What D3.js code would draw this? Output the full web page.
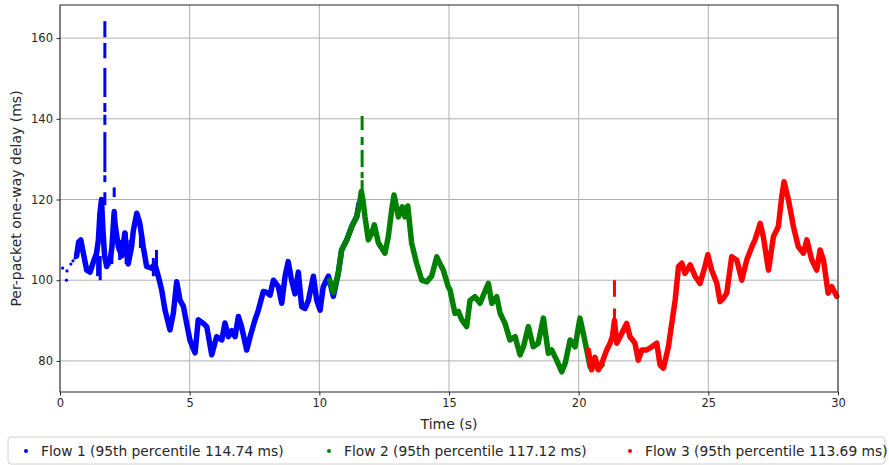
<!DOCTYPE html>
<html>
<head>
<meta charset="utf-8">
<script src="https://cdn.jsdelivr.net/npm/d3@7"></script>
<style>
  body { margin: 0; background: #fff; }
  text { font-family: "DejaVu Sans", sans-serif; fill: #262626; }
</style>
</head>
<body>
<div id="chart"></div>
<script>
// data: [time s, delay ms]
const flow1Sparse = [[0.1, 103], [0.25, 100], [0.27, 102.3], [0.42, 104], [0.5, 104.8], [0.58, 105.5]]
const flow1 = [[0.64,106],[0.72,109.5],[0.8,110],[0.9,106.7],[1.03,102.5],[1.16,102],[1.29,104.6],[1.41,106.7],[1.48,110],[1.54,116.6],[1.6,120],[1.66,112],[1.72,106],[1.8,103.4],[1.93,105],[2.0,108],[2.09,117],[2.12,114],[2.25,108.3],[2.38,106],[2.5,111.7],[2.63,104],[2.76,108.3],[2.83,112.4],[2.96,116.6],[3.08,114],[3.21,108.3],[3.34,103.4],[3.53,103],[3.66,104],[3.79,101],[3.92,97.6],[4.05,92.6],[4.24,87.7],[4.37,91.8],[4.5,99.6],[4.63,95],[4.76,93.5],[4.88,89.4],[5.01,85.2],[5.14,83],[5.21,82],[5.33,90.2],[5.53,89.3],[5.66,88.5],[5.85,81.5],[6.04,86],[6.24,85.2],[6.36,89.4],[6.49,86],[6.62,87.5],[6.75,86],[6.88,91],[7.0,88.5],[7.2,82.7],[7.33,86],[7.52,90.2],[7.65,92.6],[7.84,97.2],[7.97,97],[8.1,96.3],[8.23,100],[8.42,98.4],[8.55,94.3],[8.68,101],[8.8,104.6],[8.93,100],[9.06,96.6],[9.19,102],[9.32,93.4],[9.45,93],[9.58,95],[9.77,101],[9.9,95],[10.03,92.6],[10.15,98.4],[10.35,101],[10.54,96],[10.73,101.7],[10.86,107.5],[11.06,110],[11.25,113.3],[11.44,115.7],[11.53,119]]
const flow2 = [[10.4,100],[10.54,97],[10.73,101.7],[10.86,107.5],[11.06,110],[11.25,113.3],[11.44,115.7],[11.55,119],[11.62,122],[11.68,120],[11.76,115.7],[11.89,110],[12.02,111.7],[12.12,113.7],[12.28,109.2],[12.53,106.7],[12.66,110.8],[12.79,117.4],[12.88,121.1],[13.05,115.7],[13.2,118.2],[13.3,115.7],[13.41,118.4],[13.56,109.2],[13.75,104.2],[13.95,100],[14.14,99.6],[14.33,101],[14.53,105.8],[14.66,104],[14.78,102.5],[14.97,98.4],[15.04,97.6],[15.23,91.8],[15.36,92.3],[15.49,90.2],[15.68,88.5],[15.81,95],[16.0,95.9],[16.2,94.3],[16.33,96.4],[16.52,99.2],[16.65,94.3],[16.84,95.9],[16.97,91.8],[17.16,89.3],[17.35,85.2],[17.55,86],[17.74,81.5],[17.87,83.5],[18.06,88.5],[18.25,83.5],[18.44,84.4],[18.64,90.6],[18.83,81.9],[18.96,82.7],[19.15,80.2],[19.35,77.3],[19.48,79.4],[19.67,85.2],[19.86,83.5],[20.05,90.6],[20.18,86.8],[20.31,82.7],[20.44,78.6],[20.6,80],[20.75,78],[20.9,79]]
const flow3 = [[20.37,82.7],[20.5,77.8],[20.63,80.9],[20.76,77.8],[20.89,79.4],[21.08,82.7],[21.21,84.4],[21.3,86],[21.38,90],[21.47,84.4],[21.66,86.8],[21.85,89.3],[21.98,86],[22.17,84.4],[22.3,80.2],[22.43,82.7],[22.62,82.7],[22.82,83.5],[23.01,84.4],[23.14,79],[23.27,78.2],[23.46,83.5],[23.59,89.3],[23.72,95],[23.85,103.4],[23.98,104.2],[24.1,101.7],[24.3,103.8],[24.49,101],[24.68,99.2],[24.87,103.4],[24.98,106.3],[25.13,102.5],[25.33,99.2],[25.45,94.7],[25.58,95.5],[25.71,96.8],[25.9,105.8],[26.1,105],[26.29,100],[26.48,105],[26.68,108.3],[26.8,110],[27.0,114.1],[27.12,110.8],[27.32,102.5],[27.51,110.8],[27.7,113.3],[27.83,120.7],[27.92,124.4],[28.09,119.9],[28.28,113.3],[28.47,108.3],[28.67,106.7],[28.8,110],[28.99,105],[29.18,102.5],[29.31,107.5],[29.44,105],[29.62,96.8],[29.76,98.4],[29.95,96]]

// vertical bursts / spread of packets: [time, low, high]
const flow1Spike = [[1.55,100,106],[1.73,118.6,121.8],[1.73,124.3,126],[1.73,126.8,136.7],[1.73,138.5,141],[1.73,141.7,143.9],[1.73,145.4,152.6],[1.73,155,158.8],[1.73,160.2,164.2],[2.09,120.6,123],[1.45,101,108],[2.0,104,109],[2.3,105,110],[2.55,104,112],[2.7,105,110],[3.1,108,115],[3.6,101,105.5],[3.72,101,107.5]]
const flow2Spike = [[11.65,120.6,124.8],[11.65,125.3,126.8],[11.65,128,132.3],[11.65,133.5,135.5],[11.65,137.2,140.7]]
const flow3Spike = [[21.38,89.4,93],[21.38,95.9,100]]

const flowNames = ["Flow 1 (95th percentile 114.74 ms)", "Flow 2 (95th percentile 117.12 ms)", "Flow 3 (95th percentile 113.69 ms)"]
const flowColors = ["#0000ff", "#008000", "#ff0000"]
const xTicks = [0, 5, 10, 15, 20, 25, 30]
const yTicks = [80, 100, 120, 140, 160]

const width = 889
const height = 465
const margin = { top: 5, bottom: 73, left: 60, right: 51 }

const svg = d3.select("#chart").append("svg")
    .attr("width", width)
    .attr("height", height)

const x = d3.scaleLinear().domain([0, 30]).range([margin.left, width - margin.right])
const y = d3.scaleLinear().domain([72.3, 168.2]).range([height - margin.bottom, margin.top])

// grid
const grid = svg.append("g").attr("id", "grid")
grid.selectAll(".gx").data(xTicks).enter().append("line")
    .attr("x1", d => x(d)).attr("x2", d => x(d))
    .attr("y1", margin.top).attr("y2", height - margin.bottom)
    .attr("stroke", "#b0b0b0").attr("stroke-width", 1)
grid.selectAll(".gy").data(yTicks).enter().append("line")
    .attr("y1", d => y(d)).attr("y2", d => y(d))
    .attr("x1", margin.left).attr("x2", width - margin.right)
    .attr("stroke", "#b0b0b0").attr("stroke-width", 1)

const plot = svg.append("g").attr("id", "plot")
const line = d3.line().x(d => x(d[0])).y(d => y(d[1]))

const flows = [flow1, flow2, flow3]
const spikes = [flow1Spike, flow2Spike, flow3Spike]

flows.forEach((f, i) => {
    plot.append("path")
        .datum(f)
        .attr("d", line)
        .attr("fill", "none")
        .attr("stroke", flowColors[i])
        .attr("stroke-width", 5.5)
        .attr("stroke-linejoin", "round")
        .attr("stroke-linecap", "round")
    plot.selectAll(".spike" + i).data(spikes[i]).enter().append("line")
        .attr("x1", d => x(d[0])).attr("x2", d => x(d[0]))
        .attr("y1", d => y(d[1])).attr("y2", d => y(d[2]))
        .attr("stroke", flowColors[i])
        .attr("stroke-width", 3)
})

plot.selectAll(".sparse").data(flow1Sparse).enter().append("circle")
    .attr("cx", d => x(d[0]))
    .attr("cy", d => y(d[1]))
    .attr("r", 1.6)
    .attr("fill", flowColors[0])

// axes
const xAxis = d3.axisBottom(x).tickValues(xTicks).tickSize(3.5).tickPadding(3.5)
const yAxis = d3.axisLeft(y).tickValues(yTicks).tickSize(3.5).tickPadding(3.5)

const xAxisGroup = svg.append("g")
    .attr("transform", `translate(0, ${height - margin.bottom})`)
    .call(xAxis)
const yAxisGroup = svg.append("g")
    .attr("transform", `translate(${margin.left}, 0)`)
    .call(yAxis)
;[xAxisGroup, yAxisGroup].forEach(g => {
    g.select(".domain").remove()
    g.selectAll("text").attr("font-size", 11.5).attr("font-family", "DejaVu Sans").attr("fill", "#262626")
    g.selectAll("line").attr("stroke", "#262626")
})

// frame
svg.append("rect")
    .attr("x", margin.left).attr("y", margin.top)
    .attr("width", width - margin.left - margin.right)
    .attr("height", height - margin.top - margin.bottom)
    .attr("fill", "none").attr("stroke", "#262626").attr("stroke-width", 1)

svg.append("text")
    .attr("x", (margin.left + width - margin.right) / 2)
    .attr("y", 429)
    .attr("text-anchor", "middle")
    .attr("font-size", 14)
    .text("Time (s)")

svg.append("text")
    .attr("transform", `translate(21, ${(margin.top + height - margin.bottom) / 2}) rotate(-90)`)
    .attr("text-anchor", "middle")
    .attr("font-size", 14)
    .text("Per-packet one-way delay (ms)")

// legend
const legend = svg.append("g").attr("id", "legend")
legend.append("rect")
    .attr("x", 8).attr("y", 437).attr("width", 877).attr("height", 27).attr("rx", 3)
    .attr("fill", "#fff").attr("stroke", "#d0d0d0")
const legendX = [26, 329, 630]
flowNames.forEach((n, i) => {
    legend.append("circle").attr("cx", legendX[i]).attr("cy", 451).attr("r", 2).attr("fill", flowColors[i])
    legend.append("text").attr("x", legendX[i] + 15).attr("y", 456)
        .attr("font-size", 13.8).text(n)
})
</script>
</body>
</html>
